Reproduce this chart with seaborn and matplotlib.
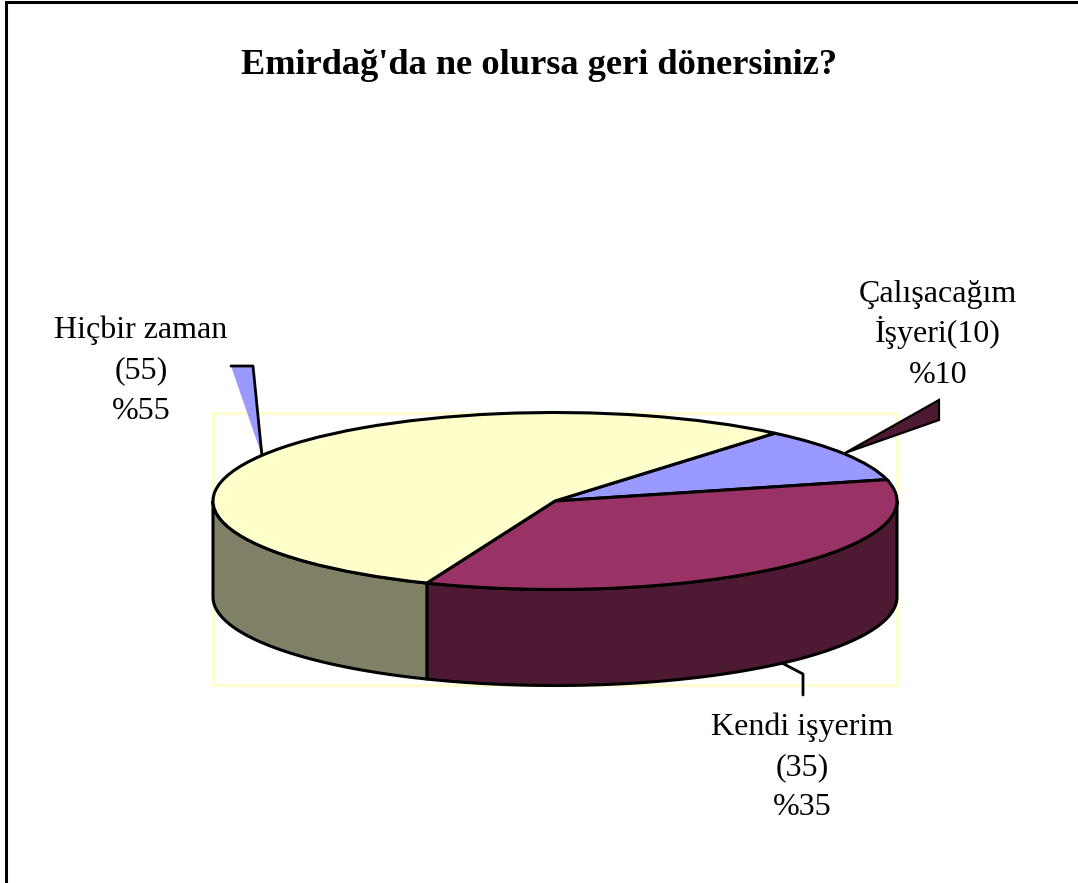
import numpy as np
import matplotlib
matplotlib.use("Agg")
import matplotlib.pyplot as plt
from matplotlib.transforms import Affine2D
import seaborn as sns

# Data
categories = ["Çalışacağım İşyeri", "Kendi işyerim", "Hiçbir zaman"]
values = [10, 35, 55]
label_lines = [
    ["Çalışacağım", "İşyeri(10)", "%10"],
    ["Kendi işyerim", "(35)", "%35"],
    ["Hiçbir zaman", "(55)", "%55"],
]
title = "Emirdağ'da ne olursa geri dönersiniz?"

# Style
top_colors = sns.color_palette(["#9999FF", "#993366", "#FFFFCC"])
side_colors = sns.color_palette(["#4D4D80", "#4D1933", "#808066"])

W, H = 1078, 883
CX, CY, RX, RY, DEPTH = 555, H - 501, 342, 88.5, 96
START = 50

sns.set_theme(style="white")
plt.rcParams["font.family"] = ["Liberation Serif", "DejaVu Serif"]

fig = plt.figure(figsize=(W / 100, H / 100), dpi=100, facecolor="white")
ax = fig.add_axes([0, 0, 1, 1])

wedges, _ = ax.pie(values, startangle=START, counterclock=False, colors=top_colors,
                   radius=RX, center=(CX, CY),
                   wedgeprops=dict(edgecolor="black", linewidth=2.2, zorder=5))
squash = (Affine2D().translate(-CX, -CY).scale(1, RY / RX).translate(CX, CY)
          + ax.transData)
for w in wedges:
    w.set_transform(squash)

ax.set_xlim(0, W)
ax.set_ylim(0, H)
ax.set_aspect("auto")
ax.axis("off")

# Outer frame (left and top only are inside the picture) and plot-area box
ax.plot([5.5, 5.5, W], [0, H - 2, H - 2], color="black", lw=2.2, zorder=1,
        solid_joinstyle="miter")
ax.plot([213, 897, 897, 213, 213], [H - 413, H - 413, H - 685, H - 685, H - 413],
        color="#FFFFCC", lw=2, zorder=1)

# Walls, derived from the slice angles
fractions = np.array(values, dtype=float) / np.sum(values)
edges = START - 360 * np.concatenate([[0], np.cumsum(fractions)])
for a0, a1, col in zip(edges[:-1], edges[1:], side_colors):
    lo, hi = max(a1, -180), min(a0, 0)
    if hi <= lo:
        continue
    t = np.radians(np.linspace(hi, lo, 120))
    x = CX + RX * np.cos(t)
    y = CY + RY * np.sin(t)
    ax.fill(np.r_[x, x[::-1]], np.r_[y, y[::-1] - DEPTH],
            facecolor=col, edgecolor="black", lw=2.2, zorder=3, joinstyle="round")

# Leader marks
ax.fill([231, 253, 262], [H - 366, H - 366, H - 456], facecolor=top_colors[0],
        edgecolor="none", zorder=2)
ax.plot([231, 253, 262], [H - 366, H - 366, H - 456], color="black", lw=2, zorder=2)
ax.fill([845, 939, 939], [H - 453, H - 400, H - 420], facecolor=side_colors[1],
        edgecolor="black", lw=1.6, zorder=2)
ax.plot([780, 803, 803], [H - 662, H - 674, H - 695], color="black", lw=2, zorder=2)

# Texts
ax.text(539, H - 74, title, ha="center", va="baseline", fontsize=26.2,
        fontweight="bold", color="black")
label_pos = [(938, [302, 342, 383]), (802, [735, 775, 815]), (141, [338, 378, 419])]
for lines, (lx, ys) in zip(label_lines, label_pos):
    for line, ly in zip(lines, ys):
        ax.text(lx, H - ly, line, ha="center", va="baseline", fontsize=23, color="black")

fig.savefig("out.png", dpi=100, facecolor="white")
